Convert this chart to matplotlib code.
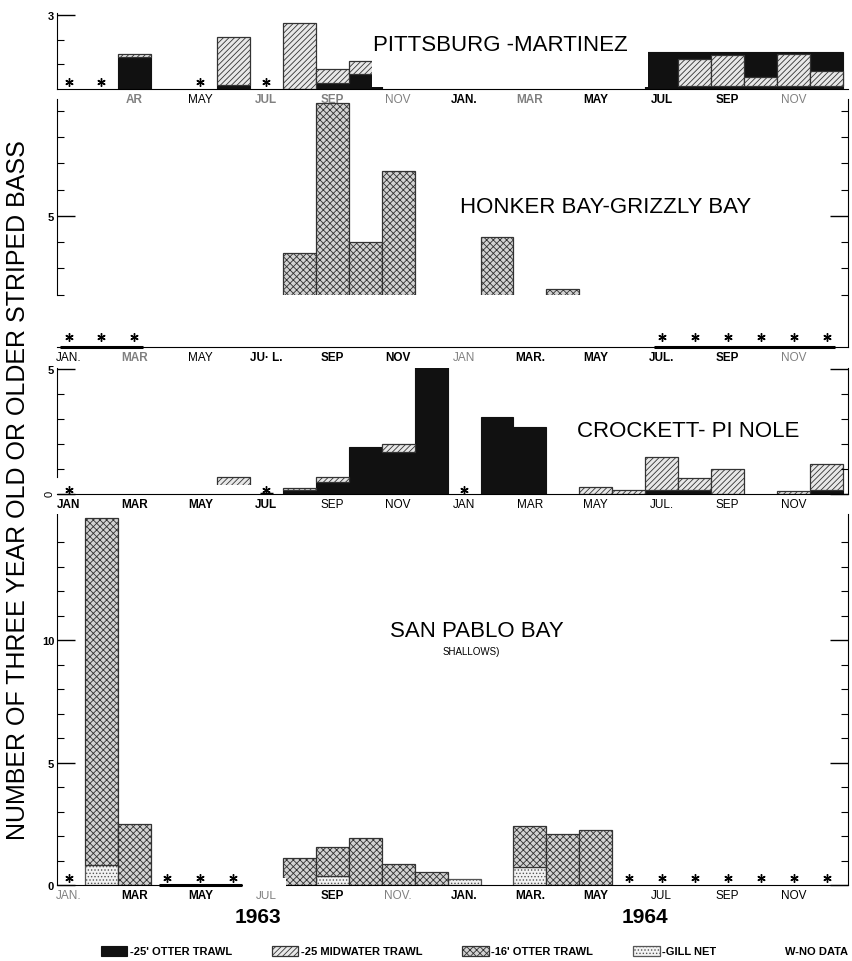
import numpy as np
import matplotlib
matplotlib.use('Agg')
import matplotlib.pyplot as plt
from matplotlib.patches import Patch, Rectangle

plt.rcParams['font.family'] = ['Liberation Sans', 'DejaVu Sans']
plt.rcParams['hatch.linewidth'] = 0.6

# months Jan 1963 .. Dec 1964
months = np.arange(24)

# PITTSBURG - MARTINEZ
p1_otter25 = [0, 0, 1.3, 0, 0, 0.15, 0, 0, 0.25, 0.6, 0, 0,
              0, 0, 0, 0, 0, 0, 1.5, 1.5, 1.5, 1.5, 1.5, 1.5]
p1_midwater = [0, 0, 0.1, 0, 0, 1.95, 0, 2.67, 0.55, 0.55, 0, 0,
               0, 0, 0, 0, 0, 0, 0, 0, 0, 0, 0, 0]
# hatched bars pasted over the black block (1964)
p1_mid_front = [0, 0, 0, 0, 0, 0, 0, 0, 0, 0, 0, 0,
                0, 0, 0, 0, 0, 0, 0, 1.1, 1.25, 0.35, 1.3, 0.6]
p1_nodata = [0, 1, 4, 6]
p1_labels = ['', 'AR', 'MAY', 'JUL', 'SEP', 'NOV', 'JAN.', 'MAR', 'MAY', 'JUL', 'SEP', 'NOV']

# HONKER BAY - GRIZZLY BAY
p2_otter16 = [0, 0, 0, 0, 0, 0, 0, 3.6, 9.3, 4.0, 6.7, 0,
              0, 4.2, 0, 2.2, 0, 0, 0, 0, 0, 0, 0, 0]
p2_nodata = [0, 1, 2, 18, 19, 20, 21, 22, 23]
p2_labels = ['JAN.', 'MAR', 'MAY', 'JU\u00b7 L.', 'SEP', 'NOV', 'JAN', 'MAR.', 'MAY', 'JUL.', 'SEP', 'NOV']

# CROCKETT - PINOLE
p3_otter25 = [0, 0, 0, 0, 0, 0, 0, 0.15, 0.5, 1.9, 1.7, 5.5,
              0, 3.1, 2.7, 0, 0, 0, 0.15, 0.15, 0, 0, 0, 0.15]
p3_midwater = [0, 0, 0, 0, 0, 0.7, 0, 0.1, 0.2, 0, 0.3, 0,
               0, 0, 0, 0, 0.3, 0.15, 1.35, 0.5, 1.0, 0, 0.12, 1.05]
p3_nodata = [0, 6, 12]
p3_labels = ['JAN', 'MAR', 'MAY', 'JUL', 'SEP', 'NOV', 'JAN', 'MAR', 'MAY', 'JUL.', 'SEP', 'NOV']

# SAN PABLO BAY
p4_gill = [0, 0.8, 0, 0, 0, 0, 0, 0, 0.35, 0, 0, 0,
           0.25, 0, 0.75, 0, 0, 0, 0, 0, 0, 0, 0, 0]
p4_otter16 = [0, 14.2, 2.5, 0, 0, 0, 0, 1.1, 1.2, 1.9, 0.85, 0.55,
              0, 0, 1.65, 2.1, 2.25, 0, 0, 0, 0, 0, 0, 0]
p4_nodata = [0, 3, 4, 5, 17, 18, 19, 20, 21, 22, 23]
p4_labels = ['JAN.', 'MAR', 'MAY', 'JUL', 'SEP', 'NOV.', 'JAN.', 'MAR.', 'MAY', 'JUL', 'SEP', 'NOV']

legend_labels = ["-25' OTTER TRAWL", "-25 MIDWATER TRAWL", "-16' OTTER TRAWL", "-GILL NET", "W-NO DATA"]

# styles
OT25 = dict(facecolor='#111111', edgecolor='#111111', linewidth=0.8)
MID = dict(facecolor='#e8e8e8', edgecolor='#333333', hatch='//////', linewidth=0.9)
OT16 = dict(facecolor='#d2d2d2', edgecolor='#333333', hatch='xxxxx', linewidth=0.9)
GILL = dict(facecolor='#f2f2f2', edgecolor='#555555', hatch='.....', linewidth=0.9)
# b = bold, n = normal, g = bold grey, h = normal grey
lbl_style = {'b': ('bold', 'black'), 'n': ('normal', 'black'),
             'g': ('bold', '#808080'), 'h': ('normal', '#808080')}


def stacked(ax, series):
    bottom = np.zeros(24)
    for vals, st in series:
        v = np.array(vals, dtype=float)
        m = v > 0
        ax.bar(months[m], v[m], bottom=bottom[m], width=1.0, **st)
        bottom += v


def setup(ax, ymax, labels, styles, major, minor, right=True):
    ax.set_facecolor('none')
    ax.set_xlim(-0.35, 23.65)
    ax.set_ylim(0, ymax)
    ax.spines['top'].set_visible(False)
    ax.spines['right'].set_visible(right)
    ax.set_xticks(months[::2])
    ax.set_xticklabels(labels)
    ax.tick_params(axis='x', length=0, pad=3, labelsize=8.5)
    for t, s in zip(ax.get_xticklabels(), styles):
        t.set_fontweight(lbl_style[s][0])
        t.set_color(lbl_style[s][1])
    ax.set_yticks(major)
    ax.set_yticks(minor, minor=True)
    ax.tick_params(axis='y', which='major', direction='in', length=13, width=1,
                   labelsize=8, pad=2, right=right)
    ax.tick_params(axis='y', which='minor', direction='in', length=5, width=0.8, right=right)
    for t in ax.get_yticklabels():
        t.set_fontweight('bold')


def stars(ax, idx, y, under=None):
    ax.plot(idx, [y] * len(idx), ls='none', marker=(6, 2, 0), ms=6, mew=1,
            color='black', zorder=4, clip_on=False)
    if under:
        for a, b in under:
            ax.hlines(0, a - 0.25, b + 0.25, color='black', lw=2.2, zorder=4, clip_on=False)


fig = plt.figure(figsize=(8.53, 9.62), dpi=100)
L, W = 57 / 853, 791 / 853
ax4 = fig.add_axes([L, 1 - 886 / 962, W, 371 / 962])
ax3 = fig.add_axes([L, 1 - 495 / 962, W, 126 / 962])
ax2 = fig.add_axes([L, 1 - 348 / 962, W, 248 / 962])
ax1 = fig.add_axes([L, 1 - 90 / 962, W, 76 / 962])

# panel 1
stacked(ax1, [(p1_otter25, OT25), (p1_midwater, MID)])
v = np.array(p1_mid_front)
m = v > 0
ax1.bar(months[m], v[m], bottom=0.12, width=1.0, zorder=1.2, **MID)
setup(ax1, 3.08, p1_labels, 'bgngghbgbbbh', [3], [1, 2], right=False)
ax1.add_patch(Rectangle((0.398, 0.02), 0.349, 0.83, transform=ax1.transAxes,
                        facecolor='white', edgecolor='none', zorder=1.4))
stars(ax1, p1_nodata, 0.3)
ax1.text(0.56, 0.59, 'PITTSBURG -MARTINEZ', transform=ax1.transAxes,
         ha='center', va='center', fontsize=16, zorder=5)

# panel 2
stacked(ax2, [(p2_otter16, OT16)])
setup(ax2, 9.45, p2_labels, 'ngnbbbhbbbbh', [5], [2, 3, 4, 6, 7, 8, 9])
ax2.axhspan(0, 2, facecolor='white', edgecolor='none', zorder=1.4)
ax2.spines['left'].set_bounds(2, 9.45)
stars(ax2, p2_nodata, 0.38, under=[(0, 2), (18, 23)])
ax2.text(0.694, 0.565, 'HONKER BAY-GRIZZLY BAY', transform=ax2.transAxes,
         ha='center', va='center', fontsize=16, zorder=5,
         bbox=dict(facecolor='white', edgecolor='none', pad=2))

# panel 3
stacked(ax3, [(p3_otter25, OT25), (p3_midwater, MID)])
setup(ax3, 5.05, p3_labels, 'bbbbnnnnnnnn', [0, 5], [1, 2, 3, 4])
ax3.set_yticklabels(['0', '5'])
ax3.get_yticklabels()[0].set_rotation(90)
ax3.get_yticklabels()[0].set_fontweight('normal')
ax3.add_patch(Rectangle((-0.75, -0.8), 7.1, 1.15, facecolor='white',
                        edgecolor='none', zorder=1.4, clip_on=False))
ax3.spines['left'].set_bounds(0.7, 5.05)
stars(ax3, p3_nodata, 0.18)
ax3.hlines(0, 5.8, 6.2, color='black', lw=2.5, zorder=4)
ax3.text(0.798, 0.5, 'CROCKETT- PI NOLE', transform=ax3.transAxes,
         ha='center', va='center', fontsize=16, zorder=5,
         bbox=dict(facecolor='white', edgecolor='none', pad=2))

# panel 4
stacked(ax4, [(p4_gill, GILL), (p4_otter16, OT16)])
setup(ax4, 15.15, p4_labels, 'hbbhbhbbbnnn', [0, 5, 10],
      [1, 2, 3, 4, 6, 7, 8, 9, 11, 12, 13, 14])
ax4.add_patch(Rectangle((5.3, -0.25), 1.3, 0.55, facecolor='white',
                        edgecolor='none', zorder=2.6, clip_on=False))
stars(ax4, p4_nodata, 0.3, under=[(3, 5)])
ax4.text(0.531, 0.685, 'SAN PABLO BAY', transform=ax4.transAxes,
         ha='center', va='center', fontsize=16)
ax4.text(0.524, 0.63, 'SHALLOWS)', transform=ax4.transAxes,
         ha='center', va='center', fontsize=7)

fig.text(0.021, 1 - 490 / 962, 'NUMBER OF THREE YEAR OLD OR OLDER STRIPED BASS',
         rotation=90, ha='center', va='center', fontsize=18)
fig.text(258 / 853, 1 - 918 / 962, '1963', ha='center', va='center',
         fontsize=15, fontweight='bold')
fig.text(645 / 853, 1 - 918 / 962, '1964', ha='center', va='center',
         fontsize=15, fontweight='bold')

handles = [Patch(**OT25), Patch(**MID), Patch(**OT16), Patch(**GILL),
           Patch(facecolor='none', edgecolor='none')]
fig.legend(handles, legend_labels, loc='center', bbox_to_anchor=(0.556, 1 - 952 / 962),
           ncol=5, frameon=False, prop=dict(weight='bold', size=8),
           handlelength=2.4, handleheight=1.0, handletextpad=0.2, columnspacing=3.6)

fig.savefig('out.png', dpi=100)
